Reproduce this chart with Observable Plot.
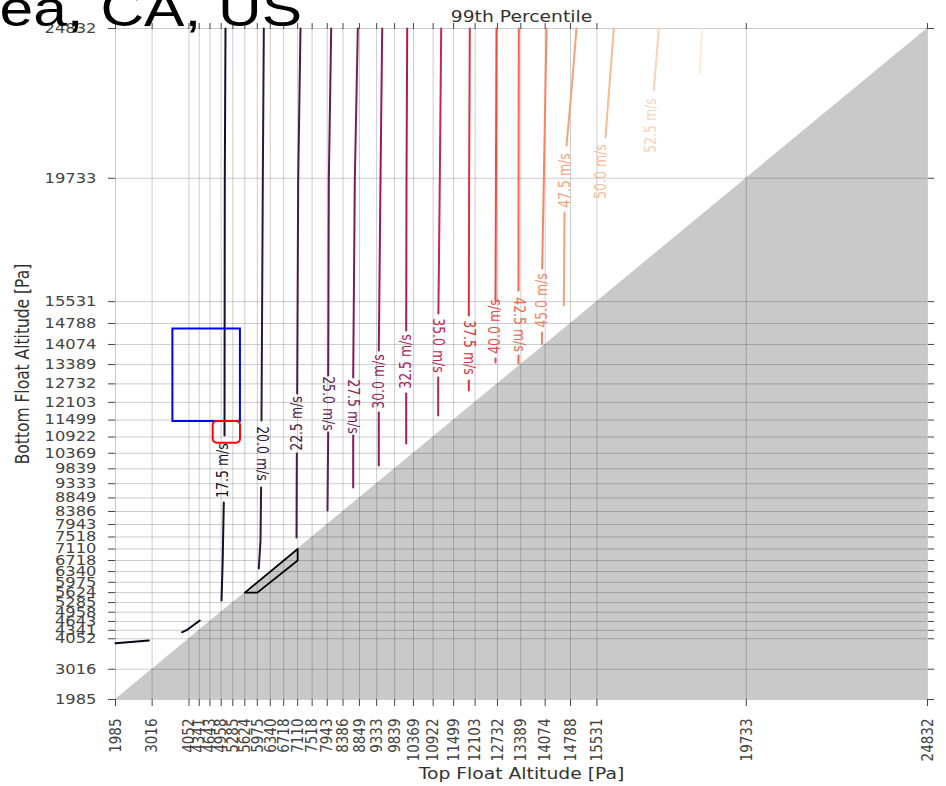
<!DOCTYPE html>
<html><head><meta charset="utf-8">
<script src="https://cdn.jsdelivr.net/npm/d3@7"></script>
<script src="https://cdn.jsdelivr.net/npm/@observablehq/plot@0.6"></script>
<style>html,body{margin:0;padding:0;background:#fff;} #chart svg{display:block;}</style>
</head><body><div id="chart"></div>
<script>
// Tick values (Pa) shared by both axes
const altitudeTicks = [1985, 3016, 4052, 4341, 4643, 4958, 5285, 5624, 5975, 6340, 6718, 7110, 7518, 7943, 8386, 8849, 9333, 9839, 10369, 10922, 11499, 12103, 12732, 13389, 14074, 14788, 15531, 19733, 24832];

// Contour levels (m/s)
const contourLevels = [15, 17.5, 20, 22.5, 25, 27.5, 30, 32.5, 35, 37.5, 40, 42.5, 45, 47.5, 50, 52.5, 55];

// Contour pieces: [level, [[top Pa, bottom Pa], ...]]
const contourSegments = [
  [15, [[1985, 3902], [2922, 3994]]],
  [15, [[3862, 4276], [4002, 4358], [4357, 4675]]],
  [17.5, [[5080, 24832], [5060, 19656], [5052, 10974]]],
  [17.5, [[5032, 8693], [5001, 6718], [4968, 5356]]],
  [20, [[6158, 24832], [6130, 19656], [6093, 11485]]],
  [20, [[6082, 9203], [6065, 7399], [6017, 6445]]],
  [22.5, [[7190, 24832], [7125, 19656], [7097, 12404]]],
  [22.5, [[7087, 10361], [7078, 7501]]],
  [25, [[8054, 24832], [7987, 19656], [7970, 13017]]],
  [25, [[7970, 11076], [7950, 8420]]],
  [27.5, [[8803, 24832], [8718, 19656], [8673, 12949]]],
  [27.5, [[8673, 10974], [8673, 9203]]],
  [30, [[9489, 24832], [9441, 19656], [9393, 13868]]],
  [30, [[9393, 11757], [9393, 9952]]],
  [32.5, [[10193, 24832], [10173, 19656], [10164, 14549]]],
  [32.5, [[10164, 12404], [10164, 10702]]],
  [35, [[11149, 24832], [11110, 19656], [11070, 15128]]],
  [35, [[11063, 12949], [11063, 11655]]],
  [37.5, [[11954, 24832], [11935, 19656], [11926, 15060]]],
  [37.5, [[11926, 12847], [11926, 12506]]],
  [40, [[12705, 24832], [12690, 19656], [12677, 15571]]],
  [40, [[12677, 13594], [12677, 13458]]],
  [42.5, [[13333, 24832], [13326, 19656], [13324, 15911]]],
  [42.5, [[13324, 13698], [13324, 13425]]],
  [45, [[14112, 24832], [14036, 19656], [13991, 16660]]],
  [45, [[13985, 14481], [13985, 14080]]],
  [47.5, [[14956, 24832], [14815, 22721], [14675, 20848]]],
  [47.5, [[14619, 18567], [14599, 15400]]],
  [50, [[16006, 24832], [15772, 21131]]],
  [52.5, [[17272, 24832], [17131, 22721]]],
  [55, [[18493, 24832], [18426, 23300]]]
];

// Inline contour labels
const labelLevels = [17.5, 20, 22.5, 25, 27.5, 30, 32.5, 35, 37.5, 40, 42.5, 45, 47.5, 50, 52.5];
const labelTop    = [5024, 6093, 7090, 7965, 8673, 9393, 10164, 11063, 11926, 12677, 13324, 13985, 14647, 15660, 17050];
const labelBottom = [9782, 10361, 11383, 12064, 11961, 12813, 13494, 14038, 13970, 14685, 14753, 15571, 19656, 19963, 21529];
const labelsReadingUp = [17.5, 22.5, 30, 32.5, 40, 45, 47.5, 50, 52.5];

// Annotation shapes (Pa)
const blueBox = [{x1: 3600, x2: 5500, y1: 11450, y2: 14600}];
const redBox = [{x1: 4734, x2: 5502, y1: 10712, y2: 11451}];
const blackOutline = [[5624, 5624], [5975, 5624], [7110, 6718], [7110, 7110], [5624, 5624]];

// Infeasible region edge (top == bottom)
const diagonal = [1985, 24832];

const lineRows = contourSegments.flatMap(([level, pts], i) => pts.map(([x, y]) => ({level, seg: i, x, y})));
const labelRows = labelLevels.map((level, i) => ({level, x: labelTop[i], y: labelBottom[i]}));

const rocket = ["#03051a", "#35193e", "#701f57", "#ad1759", "#e13342", "#f37651", "#f6b48f", "#faebdd"];

const chart = Plot.plot({
  width: 946,
  height: 786,
  marginLeft: 115,
  marginRight: 19,
  marginTop: 28,
  marginBottom: 87,
  style: {fontFamily: "DejaVu Sans", fontSize: "13.5px", color: "#444", background: "#fff", overflow: "hidden"},
  x: {domain: [1985, 24832]},
  y: {domain: [1985, 24832]},
  color: {type: "linear", domain: [15, 55], interpolate: d3.piecewise(d3.interpolateRgb, rocket)},
  marks: [
    Plot.areaY(diagonal, {x: d => d, y1: () => 1985, y2: d => d, fill: "#c9c9c9"}),
    Plot.gridX(altitudeTicks, {stroke: "#000", strokeOpacity: 0.2, strokeWidth: 1}),
    Plot.gridY(altitudeTicks, {stroke: "#000", strokeOpacity: 0.2, strokeWidth: 1}),
    Plot.axisX({ticks: altitudeTicks, tickFormat: d => String(d), tickRotate: -90, tickSize: 7, tickPadding: 12, label: null}),
    Plot.axisX({anchor: "top", ticks: altitudeTicks, tickFormat: () => "", tickSize: 6, label: null}),
    Plot.axisY({ticks: altitudeTicks, tickFormat: d => String(d), tickSize: 7, tickPadding: 12, label: null}),
    Plot.axisY({anchor: "right", ticks: altitudeTicks, tickFormat: () => "", tickSize: 6, label: null}),
    Plot.line(lineRows, {x: "x", y: "y", z: "seg", stroke: "level", strokeWidth: 2, curve: "linear"}),
    Plot.text(labelRows, {x: "x", y: "y", text: d => `${d.level.toFixed(1)} m/s`, fill: "level",
      rotate: d => labelsReadingUp.includes(d.level) ? -90 : 90, fontSize: 12.5}),
    Plot.rect(blueBox, {x1: "x1", x2: "x2", y1: "y1", y2: "y2", fill: "none", stroke: "#0000ff", strokeWidth: 2}),
    Plot.rect(redBox, {x1: "x1", x2: "x2", y1: "y1", y2: "y2", fill: "none", stroke: "#ff0000", strokeWidth: 2, rx: 4}),
    Plot.line(blackOutline, {x: d => d[0], y: d => d[1], stroke: "#000", strokeWidth: 1.8}),
    Plot.text(["99th Percentile"], {text: d => d, frameAnchor: "top", lineAnchor: "middle", dy: -11, fontSize: 15.5, fill: "#333"}),
    Plot.text(["Top Float Altitude [Pa]"], {text: d => d, frameAnchor: "bottom", lineAnchor: "middle", dy: 75, fontSize: 15.5, fill: "#333"}),
    Plot.text(["Bottom Float Altitude [Pa]"], {text: d => d, frameAnchor: "left", textAnchor: "middle", lineAnchor: "middle", dx: -93, rotate: -90, fontSize: 15.5, fill: "#333"}),
    Plot.text(["ea, CA, US"], {text: d => d, frameAnchor: "top-left", textAnchor: "start", lineAnchor: "middle", dx: -116, dy: -19, fontSize: 50, fontFamily: "Liberation Sans", fill: "#000"})
  ]
});

// The reference picture is stretched horizontally (~1.21x); stretch glyphs the same way.
chart.querySelectorAll("text").forEach(t => {
  const tr = t.getAttribute("transform") || "";
  const m = tr.match(/rotate\(([-\d.]+)\)/);
  const rotated = m && Math.abs(Math.abs(+m[1]) - 90) < 1;
  t.setAttribute("transform", tr + (rotated ? " scale(1,1.21)" : " scale(1.21,1)"));
});

document.getElementById("chart").appendChild(chart);
</script>
</body></html>
